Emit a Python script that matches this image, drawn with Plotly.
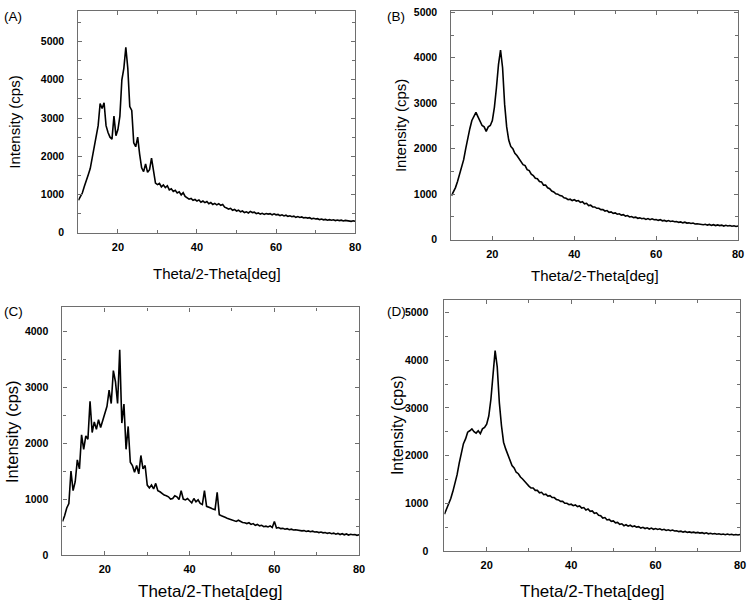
import numpy as np
import plotly.graph_objects as go

# 2-theta grid shared by the four patterns (0.5 deg steps, 10..80)
theta = np.arange(10, 80.25, 0.5)

# Intensity (cps)
intensity_a = [
    850, 960, 1040, 1210, 1340, 1520, 1680, 1950, 2200, 2540,
    2800, 3380, 3250, 3400, 2800, 2620, 2500, 2450, 3050, 2540,
    2700, 3050, 4000, 4300, 4850, 4300, 3300, 3200, 2350, 2250,
    2500, 2050, 1700, 1600, 1800, 1580, 1650, 1950, 1650, 1300,
    1260, 1290, 1200, 1250, 1180, 1230, 1120, 1150, 1080, 1110,
    1040, 1070, 990, 1050, 950, 920, 880, 900, 850, 870,
    830, 860, 800, 830, 790, 820, 760, 790, 740, 770,
    730, 760, 720, 740, 670, 650, 620, 640, 590, 610,
    570, 590, 550, 570, 530, 550, 520, 560, 530, 540,
    500, 520, 490, 510, 480, 505, 490, 500, 470, 495,
    470, 480, 450, 470, 440, 460, 430, 445, 420, 435,
    405, 425, 400, 415, 390, 400, 385, 395, 365, 380,
    360, 370, 345, 360, 340, 350, 330, 345, 330, 340,
    320, 335, 320, 330, 310, 325, 320, 310, 300, 315,
    300,
]
intensity_b = [
    965, 1050, 1145, 1280, 1430, 1600, 1760, 2000, 2260, 2440,
    2620, 2700, 2800, 2700, 2620, 2510, 2480, 2380, 2480, 2510,
    2620, 2910, 3340, 3850, 4170, 3780, 2980, 2480, 2190, 2050,
    2000, 1900, 1850, 1780, 1740, 1650, 1630, 1540, 1520, 1440,
    1410, 1350, 1340, 1280, 1270, 1200, 1200, 1140, 1120, 1070,
    1050, 1010, 1000, 970, 960, 920, 910, 880, 890, 860,
    880, 850, 860, 820, 835, 790, 800, 750, 760, 720,
    720, 690, 690, 660, 660, 630, 640, 600, 610, 580,
    590, 560, 570, 540, 550, 520, 530, 500, 510, 485,
    495, 470, 480, 460, 470, 445, 465, 440, 460, 440,
    445, 425, 440, 415, 425, 405, 420, 400, 410, 395,
    400, 380, 390, 370, 385, 365, 370, 355, 365, 345,
    350, 340, 345, 330, 340, 320, 335, 315, 330, 310,
    325, 310, 320, 300, 315, 300, 310, 295, 305, 290,
    300,
]
intensity_c = [
    600, 700, 840, 920, 1500, 1150, 1310, 1700, 1540, 2150,
    1890, 2130, 2070, 2750, 2190, 2380, 2250, 2420, 2280, 2400,
    2510, 2660, 2950, 2710, 3300, 3100, 2710, 3670, 2360, 2700,
    1890, 2300, 1660, 1600, 1480, 1600, 1450, 1780, 1540, 1600,
    1250, 1200, 1250, 1180, 1280, 1150, 1130, 1100, 1070, 1060,
    1040, 1000, 1010, 1060, 1040, 990, 1150, 1000, 985, 1010,
    960, 930, 1010, 950, 985, 920, 900, 1150, 870, 860,
    840, 820, 810, 1120, 720, 700, 690, 670, 650, 640,
    630, 615, 600, 620, 600, 580, 575, 560, 575, 545,
    560, 530, 545, 520, 530, 505, 515, 500, 520, 490,
    600, 480, 490, 470, 475, 460, 470, 450, 460, 445,
    450, 440, 440, 430, 435, 420, 430, 415, 425, 410,
    415, 400, 410, 395, 400, 385, 395, 380, 390, 370,
    385, 365, 380, 360, 375, 355, 370, 360, 365, 350,
    360,
]
intensity_d = [
    770, 870, 975, 1100, 1250, 1420, 1600, 1840, 2080, 2250,
    2350, 2490, 2520, 2560, 2500, 2470, 2520, 2460, 2560, 2590,
    2660, 2830, 3180, 3660, 4200, 3860, 3110, 2630, 2280, 2140,
    2010, 1920, 1790, 1740, 1650, 1620, 1550, 1510, 1450, 1410,
    1360, 1320, 1320, 1270, 1270, 1220, 1230, 1180, 1190, 1150,
    1160, 1120, 1120, 1080, 1070, 1040, 1040, 1000, 1000, 970,
    980, 950, 965, 930, 945, 900, 910, 860, 880, 830,
    840, 790, 800, 750, 740, 690, 700, 650, 660, 620,
    630, 590, 600, 560, 570, 530, 550, 520, 540, 510,
    525, 500, 510, 480, 495, 470, 485, 460, 480, 455,
    470, 450, 465, 440, 455, 430, 445, 425, 440, 420,
    425, 405, 415, 395, 410, 390, 400, 385, 395, 380,
    390, 375, 385, 365, 380, 360, 370, 355, 365, 350,
    360, 345, 355, 340, 355, 340, 350, 335, 345, 335,
    345,
]

panel_labels = ["(A)", "(B)", "(C)", "(D)"]
y_max = [5800, 5030, 4430, 5270]

W, H = 755, 610
FONT = "Liberation Sans, Arial"
# frame boxes in pixels: left, right, top, bottom
boxes = [
    (79, 358, 6, 232),
    (455, 744, 6, 239),
    (63, 362, 308, 560),
    (448, 746, 300, 556),
]
# per-panel title placement and sizes
xtitle_off = [41, 36, 37, 41]
ytitle_off = [64, 52, 51, 48]
xtitle_size = [15, 15, 17, 17]
ytitle_size = [15, 15, 16.5, 16]
ytick_standoff = [11, 11, 11, 13]
label_x = [2, 388, 2, 388]

fig = go.Figure()
series = [intensity_a, intensity_b, intensity_c, intensity_d]

grey = "#6e6e6e"
axis_common = dict(
    showline=True, linecolor=grey, linewidth=1.2, mirror="allticks",
    ticks="inside", ticklen=4, tickcolor=grey, tickwidth=1,
    showgrid=False, zeroline=False,
    minor=dict(ticks="inside", ticklen=3, tickcolor=grey, showgrid=False),
)

for i, (vals, box) in enumerate(zip(series, boxes)):
    n = "" if i == 0 else str(i + 1)
    l, r, t, b = box
    fig.add_trace(go.Scatter(
        x=theta, y=vals, mode="lines",
        line=dict(color="black", width=1.6),
        xaxis="x" + n, yaxis="y" + n, showlegend=False,
    ))
    fig.update_layout(**{
        "xaxis" + n: dict(axis_common, domain=[l / W, r / W], anchor="y" + n,
                          range=[10, 80], tick0=0, dtick=20, minor_dtick=10,
                          ticklabelstandoff=4,
                          tickfont=dict(family=FONT, size=11, color="black", weight="bold")),
        "yaxis" + n: dict(axis_common, domain=[1 - b / H, 1 - t / H], anchor="x" + n,
                          range=[0, y_max[i]], dtick=1000, minor_dtick=500,
                          ticklabelstandoff=ytick_standoff[i],
                          tickfont=dict(family=FONT, size=10.5, color="black", weight="bold")),
    })

    fig.add_annotation(text="Theta/2-Theta[deg]", xref="paper", yref="paper",
                       x=(l + r) / 2 / W, y=1 - (b + xtitle_off[i]) / H,
                       xanchor="center", yanchor="middle", showarrow=False,
                       font=dict(family=FONT, size=xtitle_size[i], color="black"))
    fig.add_annotation(text="Intensity (cps)", xref="paper", yref="paper",
                       x=(l - ytitle_off[i]) / W, y=1 - (t + b) / 2 / H, textangle=-90,
                       xanchor="center", yanchor="middle", showarrow=False,
                       font=dict(family=FONT, size=ytitle_size[i], color="black"))
    fig.add_annotation(text=panel_labels[i], xref="paper", yref="paper",
                       x=label_x[i] / W, y=1 - (12 if i < 2 else 312) / H,
                       xanchor="left", yanchor="middle", showarrow=False,
                       font=dict(family=FONT, size=13.5, color="black"))

fig.update_layout(
    width=W, height=H,
    margin=dict(l=0, r=0, t=0, b=0),
    paper_bgcolor="white", plot_bgcolor="white",
)

# drop the browser's default body margin so the figure sits at the window origin
fig.write_html("out.html", config={"displayModeBar": False},
               post_script="document.body.style.margin='0';")
